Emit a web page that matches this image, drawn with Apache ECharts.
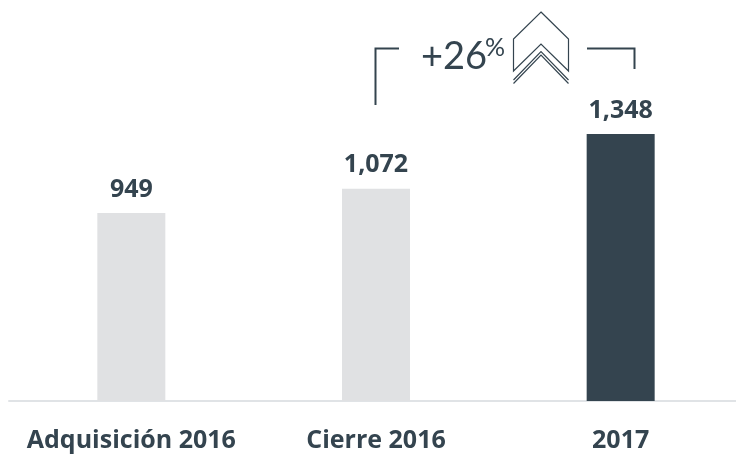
<!DOCTYPE html>
<html><head><meta charset="utf-8">
<script src="https://cdn.jsdelivr.net/npm/echarts@6/dist/echarts.min.js"></script>
<style>html,body{margin:0;padding:0;background:#fff;overflow:hidden}#c{width:744px;height:454px}</style>
</head><body><div id="c"></div>
<script>
const categories = ['Adquisición 2016', 'Cierre 2016', '2017'];
const values = [949, 1072, 1348];
const valueLabels = ['949', '1,072', '1,348'];
const barColors = ['#E0E1E3', '#E0E1E3', '#34444F'];
const growthText = '+26';
const growthUnit = '%';
const ink = '#34444F';
const chart = echarts.init(document.getElementById('c'), null, {renderer: 'canvas'});
const font = 'Lato, "Open Sans", sans-serif';
const boldFont = '"Open Sans", Lato, sans-serif';
const line = (pts, w) => ({type: 'polyline', silent: true,
  shape: {points: pts}, style: {stroke: ink, lineWidth: w, fill: null}});
chart.setOption({
  animation: false,
  backgroundColor: '#fff',
  grid: {left: 9, width: 734, top: 5, height: 396},
  xAxis: {type: 'category', data: categories,
    axisTick: {show: false},
    axisLine: {lineStyle: {color: '#E0E3E6', width: 2}},
    axisLabel: {color: ink, fontFamily: boldFont, fontWeight: 'bold', fontSize: 25, margin: 27, interval: 0}},
  yAxis: {type: 'value', min: 0, max: 2000, show: false},
  series: [{type: 'bar', barWidth: 68,
    data: values.map((v, i) => ({value: v, itemStyle: {color: barColors[i]}})),
    label: {show: true, position: 'top', distance: 11, color: ink, fontFamily: boldFont, fontWeight: 'bold', fontSize: 25,
      formatter: p => valueLabels[p.dataIndex]}}],
  graphic: [
    line([[375.5, 105], [375.5, 48.5], [399, 48.5]], 2),
    line([[587, 48.5], [634.5, 48.5], [634.5, 69]], 2),
    {type: 'polygon', silent: true, shape: {points: [[541, 12], [568.5, 39], [568.5, 71], [541, 44], [513.5, 71], [513.5, 39]]},
      style: {stroke: ink, lineWidth: 1.2, fill: null}},
    line([[513.5, 80], [541, 51.5], [568.5, 80]], 1.2),
    line([[513.5, 83.5], [541, 55], [568.5, 83.5]], 1.2),
    {type: 'text', silent: true, style: {x: 421, y: 38, text: growthText, fill: ink, font: '38px ' + font}},
    {type: 'text', silent: true, style: {x: 485, y: 35, text: growthUnit, fill: ink, font: '25px ' + font}}
  ]
});
</script></body></html>
